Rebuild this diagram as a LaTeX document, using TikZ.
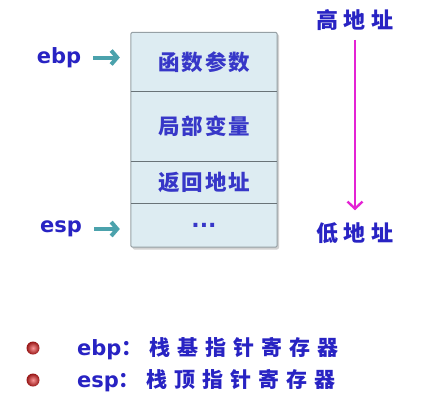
\documentclass[tikz,border=0pt]{standalone}
\usepackage{fontspec}
\newfontfamily\cjk{Noto Sans CJK SC}
\newfontfamily\lat{DejaVu Sans}
\usetikzlibrary{arrows.meta,shadings}
\definecolor{txtblue}{RGB}{40,35,195}
\definecolor{cellblue}{RGB}{55,55,200}
\definecolor{cellfill}{RGB}{221,236,242}
\definecolor{cellline}{RGB}{105,115,120}
\definecolor{frameline}{RGB}{150,160,165}
\definecolor{tealc}{RGB}{75,162,172}
\definecolor{magc}{RGB}{228,35,212}
\definecolor{ballin}{RGB}{250,150,150}
\definecolor{ballout}{RGB}{150,20,20}
\newcommand\cgapa{\hspace{2pt}}
\newcommand\cgapb{\hspace{6pt}}
\newcommand\cgapc{\hspace{7pt}}
\begin{document}
\begin{tikzpicture}[x=1pt,y=-1pt,
  cell/.style={fill=cellfill,minimum width=146pt,inner sep=0pt,text=cellblue,
    font=\cjk\bfseries\fontsize{21.5}{24}\selectfont},
  lbl/.style={inner sep=0pt,text=txtblue,font=\lat\bfseries\fontsize{21}{25}\selectfont},
  addr/.style={inner sep=0pt,text=txtblue,font=\cjk\bfseries\fontsize{22}{26}\selectfont},
  btxt/.style={inner sep=0pt,text=txtblue,font=\cjk\bfseries\fontsize{21}{25}\selectfont},
  divider/.style={draw=cellline,line width=1.3pt},
  tarrow/.style={draw=tealc,line width=4pt,-{Straight Barb[length=6pt,width=14pt]}},
  marrow/.style={draw=magc,line width=2.4pt,-{Straight Barb[length=7pt,width=15pt]}},
  bullet/.style={circle,minimum size=13pt,inner sep=0pt,inner color=ballin,outer color=ballout}]
\useasboundingbox[fill=white] (0,0) rectangle (434,410);
% shadow
\fill[gray!35,rounded corners=2pt] (132.5,34) rectangle (279,249.5);
% cells
\node[cell,minimum height=59pt] (c1) at (204,62) {函\cgapa 数\cgapa 参\cgapa 数};
\node[cell,minimum height=69pt] (c2) at (204,126.5) {局\cgapa 部\cgapa 变\cgapa 量};
\node[cell,minimum height=43pt] (c3) at (204,182) {返\cgapa 回\cgapa 地\cgapa 址};
\node[cell,minimum height=44pt] (c4) at (204,225) {\raisebox{-2pt}{\lat\bfseries\fontsize{22}{24}\selectfont ...}};
\draw[frameline,line width=1pt,rounded corners=2pt] (c1.north west) rectangle (c4.south east);
\draw[divider] (c1.south west) -- (c1.south east);
\draw[divider] (c2.south west) -- (c2.south east);
\draw[divider] (c3.south west) -- (c3.south east);
% pointers
\node[lbl] (ebp) at (59,57.5) {ebp};
\node[lbl] (esp) at (61,229) {esp};
\draw[tarrow] ([xshift=12pt]ebp.east) -- ([xshift=-11pt]c1.west |- ebp.east);
\draw[tarrow] ([xshift=12pt]esp.east) -- ([xshift=-11pt]c4.west |- esp.east);
% address direction
\node[addr] (hi) at (355,20) {高\cgapb 地\cgapb 址};
\node[addr] (lo) at (355,233) {低\cgapb 地\cgapb 址};
\draw[marrow] ([yshift=-9pt]hi.south) -- ([yshift=12pt]lo.north);
% legend
\node[bullet] (b1) at (33,348) {};
\node[bullet] (b2) at (33,380) {};
\node[btxt,anchor=base west] (t1) at (77,355) {{\lat\bfseries\fontsize{21}{25}\selectfont ebp}：\cgapc 栈\cgapc 基\cgapc 指\cgapc 针\cgapc 寄\cgapc 存\cgapc 器};
\node[btxt,anchor=base west] (t2) at (77,387) {{\lat\bfseries\fontsize{21}{25}\selectfont esp}：\cgapc 栈\cgapc 顶\cgapc 指\cgapc 针\cgapc 寄\cgapc 存\cgapc 器};
\end{tikzpicture}
\end{document}
